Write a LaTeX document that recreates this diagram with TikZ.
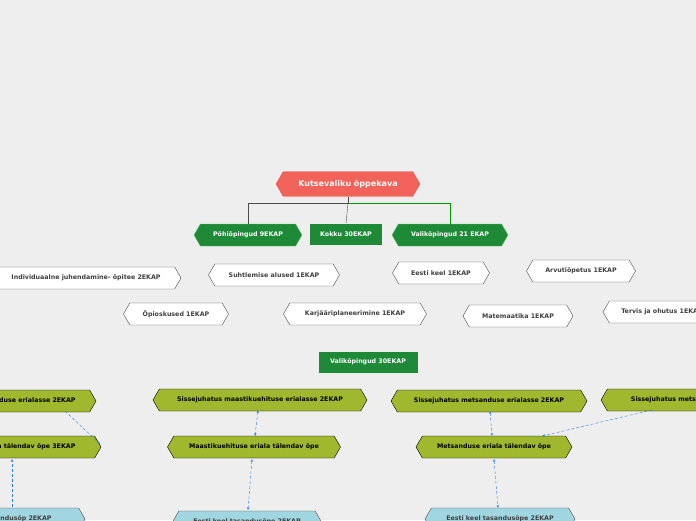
\documentclass[tikz,border=0pt]{standalone}
\usepackage{fontspec}
\setmainfont{DejaVu Sans}
\usetikzlibrary{shapes.symbols,arrows.meta}
\definecolor{bgc}{HTML}{EEEEEE}
\definecolor{rootc}{HTML}{F0625A}
\definecolor{greenc}{HTML}{1E8A38}
\definecolor{olivec}{HTML}{A0B82E}
\definecolor{bluec}{HTML}{A0D6E2}
\definecolor{linkc}{HTML}{2A7FE0}
\tikzset{
  hexa/.style={shape=signal, signal to=east and west, signal pointer angle=120,
    inner sep=2pt, font=\fontsize{6.3}{7}\selectfont\bfseries},
  rootbox/.style={hexa, fill=rootc, draw=white, thick, text=white, minimum height=26pt,
    font=\fontsize{8}{9}\selectfont\bfseries},
  greenbox/.style={hexa, fill=greenc, draw=green!60!black!60, text=white, minimum height=22pt},
  sqbox/.style={rectangle, fill=greenc, text=white, minimum height=21pt, inner sep=4pt,
    font=\fontsize{6.3}{7}\selectfont\bfseries},
  whitebox/.style={hexa, fill=white, draw=black!70, text=black!75, minimum height=22pt},
  olivebox/.style={hexa, fill=olivec, draw=black, text=black, minimum height=22pt},
  bluebox/.style={hexa, fill=bluec, draw=black!70, text=black!75, minimum height=22pt},
  link/.style={linkc, densely dashed, -{Stealth[length=3pt]}},
  blink/.style={linkc, densely dashed, {Stealth[length=3pt]}-{Stealth[length=3pt]}}
}
\begin{document}
\begin{tikzpicture}[x=1pt,y=-1pt]
  \fill[bgc] (0,0) rectangle (696,520);
  \useasboundingbox (0,0) rectangle (696,520);
  \begin{scope}
  \clip (0,0) rectangle (696,520);
  % top level
  \node[rootbox, minimum width=146pt] (root) at (348,184) {Kutsevaliku õppekava};
  \node[greenbox, minimum width=108pt] (pohi) at (248,235) {Põhiõpingud 9EKAP};
  \node[sqbox, minimum width=72pt] (kokku) at (346,234) {Kokku 30EKAP};
  \node[greenbox, minimum width=116pt] (vali) at (450,235) {Valikõpingud 21 EKAP};
  \draw[black!70] (root.south) -- ++(0,6) -| (pohi.north);
  \draw[black!70] (root.south) ++(0,6) -- (kokku.north);
  \draw[green!60!black] (root.south) ++(0,6) -| (vali.north);
  % white nodes
  \node[whitebox, minimum width=190pt] (indiv) at (86,278) {Individuaalne juhendamine- õpitee 2EKAP};
  \node[whitebox, minimum width=131pt] (suhtl) at (274,275) {Suhtlemise alused 1EKAP};
  \node[whitebox, minimum width=97pt] (eesti) at (441,273) {Eesti keel 1EKAP};
  \node[whitebox, minimum width=109pt] (arvuti) at (581,271) {Arvutiõpetus 1EKAP};
  \node[whitebox, minimum width=105pt] (oppi) at (176,314) {Õpioskused 1EKAP};
  \node[whitebox, minimum width=143pt] (karj) at (355,314) {Karjääriplaneerimine 1EKAP};
  \node[whitebox, minimum width=110pt] (mate) at (518,316) {Matemaatika 1EKAP};
  \node[whitebox, minimum width=118pt] (tervis) at (662,312) {Tervis ja ohutus 1EKAP};
  % second block
  \node[sqbox, minimum width=99pt] (vali30) at (368,362) {Valikõpingud 30EKAP};
  \node[olivebox, minimum width=200pt] (sis1) at (-4,401) {Sissejuhatus puiduhoolduse erialasse 2EKAP};
  \node[olivebox, minimum width=214pt] (sis2) at (260,400) {Sissejuhatus maastikuehituse erialasse 2EKAP};
  \node[olivebox, minimum width=196pt] (sis3) at (489,401) {Sissejuhatus metsanduse erialasse 2EKAP};
  \node[olivebox, minimum width=210pt] (sis4) at (706,400) {Sissejuhatus metsanduse erialasse 2EKAP};
  \node[olivebox, minimum width=200pt] (tal1) at (1,447) {Puiduhoolduse eriala tälendav õpe 3EKAP};
  \node[olivebox, minimum width=173pt] (tal2) at (254,447) {Maastikuehituse eriala tälendav õpe};
  \node[olivebox, minimum width=156pt] (tal3) at (494,447) {Metsanduse eriala tälendav õpe};
  \node[bluebox, minimum width=170pt] (tas1) at (0,519) {Eesti keel tasandusõp 2EKAP};
  \node[bluebox, minimum width=149pt] (tas2) at (247,522) {Eesti keel tasandusõpe 2EKAP};
  \node[bluebox, minimum width=150pt] (tas3) at (500,519) {Eesti keel tasandusõpe 2EKAP};
  % links
  \draw[link] (65,411) -- (100,444);
  \draw[link] (12,507) -- (12,459);
  \draw[blink] (258,410) -- (255,436);
  \draw[blink] (252,459) -- (248,510);
  \draw[blink] (490,411) -- (492,436);
  \draw[link] (652,410) -- (542,436);
  \draw[blink] (494,459) -- (498,508);
  \end{scope}
\end{tikzpicture}
\end{document}
